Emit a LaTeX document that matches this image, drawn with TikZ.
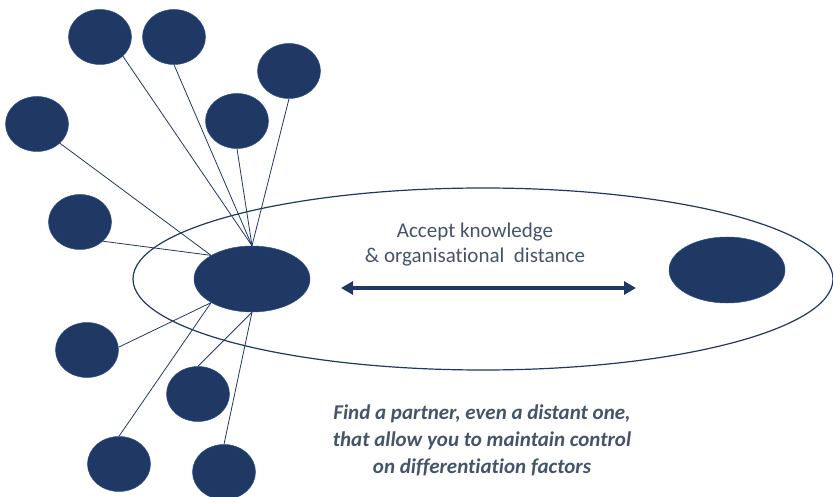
\documentclass[tikz,border=0pt]{standalone}
\usepackage{fontspec}
\setmainfont{Carlito}[RawFeature=-liga]
\usetikzlibrary{shapes.geometric,arrows.meta}
\definecolor{navy}{HTML}{203864}
\definecolor{navyedge}{HTML}{2F528F}
\definecolor{txtgray}{HTML}{44546A}

\begin{document}
\begin{tikzpicture}[x=1pt,y=-1pt]
\tikzstyle{every node}+=[inner sep=0pt]
\tikzstyle{firm}=[ellipse,fill=navy,draw=navyedge,line width=0.5pt,minimum width=63,minimum height=55]
\tikzstyle{bigfirm}=[firm,minimum width=116,minimum height=66]
\tikzstyle{tie}=[navy,line width=0.8pt]
\useasboundingbox (0,0) rectangle (833,497);
% zone of accepted distance
\node [ellipse,draw=navy,line width=1.2pt,minimum width=700,minimum height=182] (zone) at (483,279) {};
% firms
\node [bigfirm] (focal) at (252,279) {};
\node [bigfirm] (partner) at (727,270) {};
\node [firm] (n1) at (100,37) {};
\node [firm] (n2) at (174,37) {};
\node [firm] (n3) at (289,71) {};
\node [firm] (n4) at (237,121) {};
\node [firm] (n5) at (37,124) {};
\node [firm] (n6) at (80,222) {};
\node [firm] (n7) at (87,350) {};
\node [firm] (n8) at (198,394) {};
\node [firm] (n9) at (119,464) {};
\node [firm] (n10) at (224,472) {};
% ties
\draw [tie] (n1.-40) -- (focal.north);
\draw [tie] (n2.-90) -- (focal.north);
\draw [tie] (n3.-90) -- (focal.north);
\draw [tie] (n4.-90) -- (focal.north);
\draw [tie] (n5.-40) -- (focal.150);
\draw [tie] (n6.-40) -- (focal.150);
\draw [tie] (n7.5) -- (focal.210);
\draw [tie] (n9.90) -- (focal.210);
\draw [tie] (n8.90) -- (focal.south);
\draw [tie] (n10.90) -- (focal.south);
% distance
\coordinate (dl) at (341,288);
\coordinate (dr) at (636,288);
\draw [navy,line width=4pt,{Triangle[length=12pt,width=13pt]}-{Triangle[length=12pt,width=13pt]}] (dl) -- (dr);
\node [txtgray,align=center,font=\fontsize{21}{25}\selectfont] (lbl) at (475,245) {Accept knowledge\\\& organisational~ distance};
\node [txtgray,align=center,font=\fontsize{21}{27}\selectfont\bfseries\itshape] (note) at (482,440) {Find a partner, even a distant one,\\that allow you to maintain control\\on differentiation factors};
\end{tikzpicture}
\end{document}
